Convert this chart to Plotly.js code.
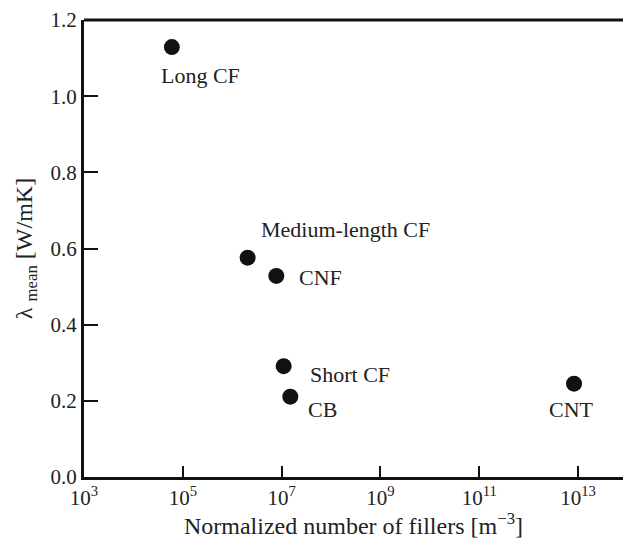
<!DOCTYPE html>
<html>
<head>
<meta charset="utf-8">
<script src="https://cdn.plot.ly/plotly-3.0.1.min.js"></script>
<style>html,body{margin:0;padding:0;background:#fff;}#chart{width:623px;height:539px;}</style>
</head>
<body>
<div id="chart"></div>
<script>
// Data
const fillers = ["Long CF", "Medium-length CF", "CNF", "Short CF", "CB", "CNT"];
const normalizedNumber = [6.0e4, 2.05e6, 7.8e6, 1.1e7, 1.5e7, 8.3e12];
const lambdaMean = [1.129, 0.576, 0.528, 0.291, 0.211, 0.245];
const xTickVals = [1e3, 1e5, 1e7, 1e9, 1e11, 1e13];
const xTickText = ["10<sup>3</sup>", "10<sup>5</sup>", "10<sup>7</sup>", "10<sup>9</sup>", "10<sup>11</sup>", "10<sup>13</sup>"];
const yTickVals = [0.0, 0.2, 0.4, 0.6, 0.8, 1.0, 1.2];

// label offsets (pixels) relative to each point
const labelShiftX = [29, 98, 44, 66, 32, -3];
const labelShiftY = [-28, 28, -2, -8, -13, -26];

const font = "Liberation Serif";

const trace = {
  x: normalizedNumber,
  y: lambdaMean,
  mode: "markers",
  type: "scatter",
  marker: {color: "#111111", size: 16},
  hoverinfo: "skip"
};

const annotations = fillers.map((name, i) => ({
  x: Math.log10(normalizedNumber[i]),
  y: lambdaMean[i],
  xref: "x", yref: "y",
  text: name,
  showarrow: false,
  xshift: labelShiftX[i],
  yshift: labelShiftY[i],
  font: {family: font, size: 22, color: "#222"}
}));

const layout = {
  width: 623, height: 539,
  margin: {l: 84, r: 0, t: 20, b: 62},
  paper_bgcolor: "#fff", plot_bgcolor: "#fff",
  showlegend: false,
  font: {family: font, color: "#222"},
  xaxis: {
    type: "log",
    range: [3, 13.91],
    tickvals: xTickVals,
    ticktext: xTickText,
    ticks: "inside", ticklen: 11, tickwidth: 2, tickcolor: "#111",
    showline: true, linecolor: "#111", linewidth: 3,
    showgrid: false, zeroline: false,
    tickfont: {family: font, size: 21, color: "#222"},
    title: {text: "Normalized number of fillers [m<sup>−3</sup>]", font: {family: font, size: 24, color: "#222"}, standoff: 6}
  },
  yaxis: {
    range: [0, 1.2],
    tickvals: yTickVals,
    ticktext: yTickVals.map(v => v.toFixed(1)),
    ticks: "inside", ticklen: 14, tickwidth: 2, tickcolor: "#111",
    showline: true, linecolor: "#111", linewidth: 3,
    showgrid: false, zeroline: false,
    tickfont: {family: font, size: 21, color: "#222"},
    title: {text: "λ <sub>mean</sub> [W/mK]", font: {family: font, size: 24, color: "#222"}, standoff: 12}
  },
  shapes: [{
    type: "line", xref: "paper", yref: "paper",
    x0: 0, x1: 1, y0: 1, y1: 1,
    line: {color: "#111", width: 3}
  }],
  annotations: annotations
};

Plotly.newPlot("chart", [trace], layout, {staticPlot: true, displayModeBar: false});
</script>
</body>
</html>
